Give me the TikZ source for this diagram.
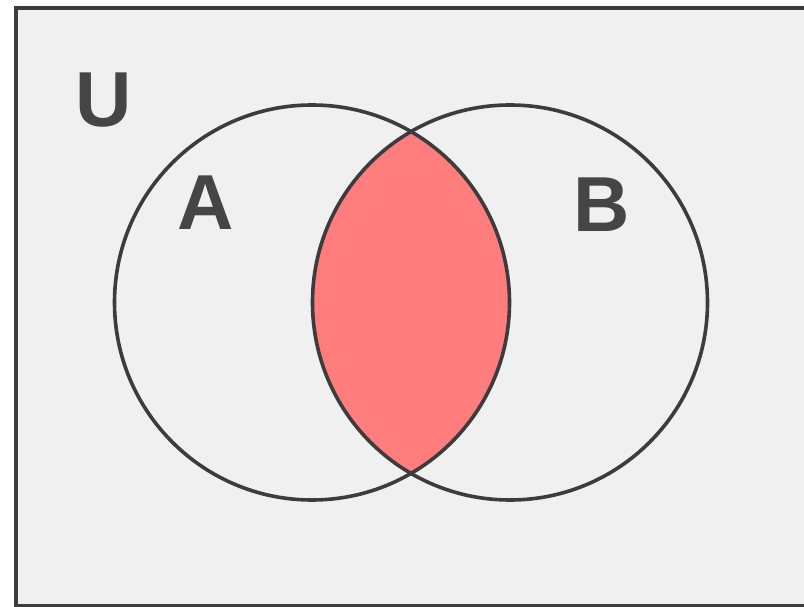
\documentclass[tikz,border=0pt]{standalone}
\usepackage{fontspec}
\setmainfont{Liberation Sans}
\definecolor{bg}{HTML}{F0F0F0}
\definecolor{edge}{HTML}{3C3C3C}
\definecolor{lens}{RGB}{255,125,125}
\definecolor{txt}{HTML}{454545}
\begin{document}
\begin{tikzpicture}[x=1pt,y=-1pt,
  setline/.style={draw=edge,line width=3.6pt},
  setlabel/.style={inner sep=0pt,text=txt,font=\fontsize{78}{78}\selectfont\bfseries}]
\useasboundingbox (0,0) rectangle (804,607);
\fill[white] (0,0) rectangle (804,607);
\node[draw=edge,line width=4.5pt,fill=bg,inner sep=0pt,minimum width=800pt,minimum height=598pt,anchor=north west] (U) at (13.5,6) {};
\begin{scope}
  \clip (312,302.5) circle (197.5);
  \fill[lens] (510,302.5) circle (197.5);
\end{scope}
\node[setline,circle,minimum size=395pt,inner sep=0pt] (A) at (312,302.5) {};
\node[setline,circle,minimum size=395pt,inner sep=0pt] (B) at (510,302.5) {};
\node[setlabel] (lu) at (103.5,100.5) {U};
\node[setlabel] (la) at (206,202.5) {A};
\node[setlabel] (lb) at (601.5,205) {B};
\end{tikzpicture}
\end{document}
